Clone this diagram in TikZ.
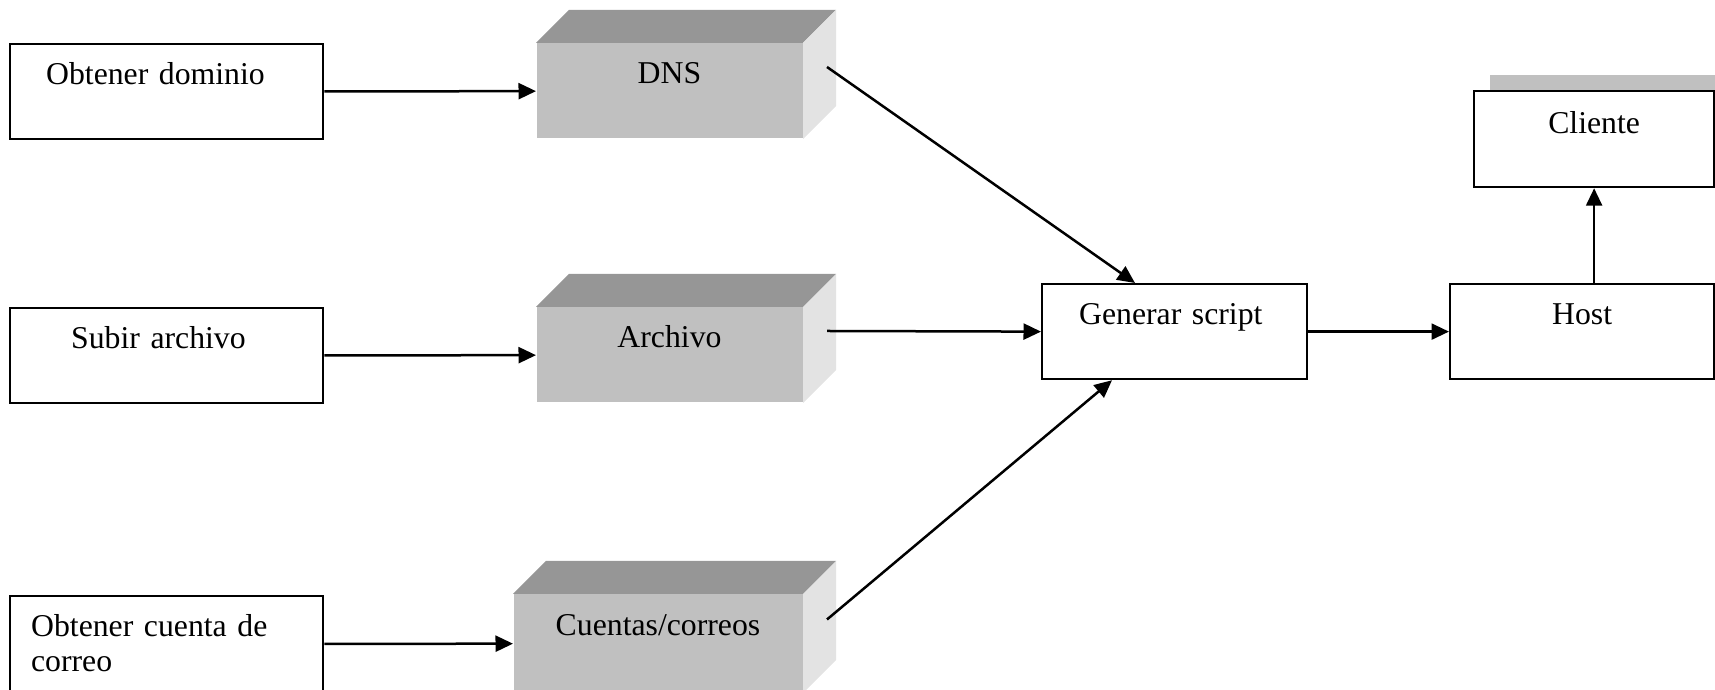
\documentclass[tikz,border=0pt]{standalone}
\usepackage{fontspec}
\setmainfont{Liberation Serif}
\usetikzlibrary{arrows.meta,shadows}

\definecolor{frente}{HTML}{C0C0C0}
\definecolor{tapa}{HTML}{969696}
\definecolor{lado}{HTML}{E3E3E3}

\begin{document}
\begin{tikzpicture}[
    x=0.4pt, y=-0.4pt,
    font=\fontsize{12.7}{14}\selectfont,
    caja/.style={draw, line width=0.9pt, anchor=north west, inner ysep=0pt,
                 fill=white, text height=16pt, text depth=22pt},
    bloque/.style={fill=frente, anchor=north west, inner sep=0pt,
                   minimum width=106.4pt, text height=16pt, text depth=22pt},
    flecha/.style={line width=1pt, -{Triangle[length=7pt,width=6.4pt]}}
  ]
  \path[use as bounding box, clip] (0,0) rectangle (1715,690);

  % tareas de la izquierda
  \node[caja, align=left, text width=96.4pt, inner xsep=14.4pt] (dom) at (9,43) {Obtener dominio};
  \node[caja, align=left, text width=76.4pt, inner xsep=24.4pt] (subir) at (9,307) {Subir archivo};
  \node[caja, align=left, text width=108.4pt, inner xsep=8.4pt, text depth=22.4pt] (cta) at (9,595)
    {Obtener cuenta de\\correo};

  % bloques grises
  \node[bloque] (dns) at (536,43) {DNS};
  \node[bloque] (arch) at (536,307) {Archivo};
  \node[bloque, minimum width=115.6pt, text height=16.4pt, text depth=22.8pt] (ctas) at (513,594)
    {Cuentas/correos};

  \foreach \n in {dns,arch,ctas} {
    \fill[tapa] (\n.north west) -- ++(33,-33) -- ([shift={(33,-33)}]\n.north east)
      -- (\n.north east) -- cycle;
    \fill[lado] (\n.north east) -- ++(33,-33) -- ([shift={(33,-33)}]\n.south east)
      -- (\n.south east) -- cycle;
    \coordinate (\n-l) at ([shift={(24,-24)}]\n.east);
  }

  \node[caja, align=left, text width=76.4pt, inner xsep=14.8pt] (gen) at (1041,283) {Generar script};
  \node[caja, minimum width=105.6pt, inner xsep=0pt] (host) at (1449,283) {Host};
  \node[caja, minimum width=96pt, inner xsep=0pt, text height=16.8pt, text depth=21.6pt,
        drop shadow={shadow xshift=6.4pt, shadow yshift=6.4pt, fill=frente, opacity=1}]
    (cli) at (1473,90) {Cliente};

  % flechas
  \draw[flecha] (dom) -- (dns);
  \draw[flecha] (subir) -- (arch);
  \draw[flecha] (cta) -- (ctas);
  \draw[flecha] (dns-l) -- ([xshift=37.6pt]gen.north west);
  \draw[flecha] (arch-l) -- (gen.west);
  \draw[flecha] (ctas-l) -- ([xshift=28.4pt]gen.south west);
  \draw[flecha] (gen) -- (host);
  \draw[flecha] (host.north -| cli) -- (cli);
\end{tikzpicture}
\end{document}
